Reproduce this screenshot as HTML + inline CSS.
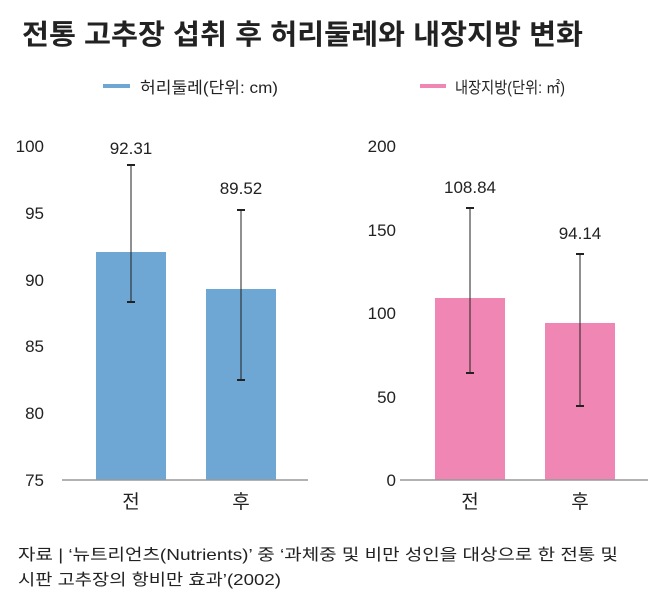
<!DOCTYPE html>
<html><head><meta charset="utf-8"><style>
html,body{margin:0;padding:0;background:#fff}
svg{display:block}
text{font-family:"Liberation Sans","Noto Sans CJK KR",sans-serif;fill:#222}
</style></head><body>
<svg width="658" height="602" viewBox="0 0 658 602">
<text x="22" y="44" font-size="28" font-weight="bold" textLength="561" lengthAdjust="spacingAndGlyphs" fill="#111">전통 고추장 섭취 후 허리둘레와 내장지방 변화</text>
<!-- legends -->
<rect x="103" y="84" width="27" height="4" fill="#6fa7d4"/>
<text x="140" y="93" font-size="16" textLength="138" lengthAdjust="spacingAndGlyphs">허리둘레(단위: cm)</text>
<rect x="420" y="84" width="26" height="4" fill="#ef86b3"/>
<text x="455" y="93" font-size="16" textLength="110" lengthAdjust="spacingAndGlyphs">내장지방(단위: ㎡)</text>
<!-- left chart -->
<g font-size="17" text-anchor="end">
<text x="44" y="152">100</text><text x="44" y="219">95</text><text x="44" y="286">90</text>
<text x="44" y="352">85</text><text x="44" y="419">80</text><text x="44" y="486">75</text>
</g>
<rect x="96" y="252" width="70" height="228" fill="#6fa7d4"/>
<rect x="206" y="289" width="70" height="191" fill="#6fa7d4"/>
<line x1="62" y1="480" x2="308" y2="480" stroke="#999" stroke-width="1.5"/>
<g stroke="#222" stroke-width="1">
<line x1="131" y1="165" x2="131" y2="302"/><line x1="127" y1="165" x2="135" y2="165" stroke-width="2"/><line x1="127" y1="302" x2="135" y2="302" stroke-width="2"/>
<line x1="241" y1="210" x2="241" y2="380"/><line x1="237" y1="210" x2="245" y2="210" stroke-width="2"/><line x1="237" y1="380" x2="245" y2="380" stroke-width="2"/>
</g>
<g font-size="17" text-anchor="middle">
<text x="131" y="154">92.31</text><text x="241" y="194">89.52</text>
<text x="131" y="508" font-size="19">전</text><text x="241" y="508" font-size="19">후</text>
</g>
<!-- right chart -->
<g font-size="17" text-anchor="end">
<text x="396" y="152">200</text><text x="396" y="236">150</text><text x="396" y="319">100</text>
<text x="396" y="403">50</text><text x="396" y="486">0</text>
</g>
<rect x="435" y="298" width="70" height="182" fill="#ef86b3"/>
<rect x="545" y="323" width="70" height="157" fill="#ef86b3"/>
<line x1="400" y1="480" x2="648" y2="480" stroke="#999" stroke-width="1.5"/>
<g stroke="#222" stroke-width="1">
<line x1="470" y1="208" x2="470" y2="373"/><line x1="466" y1="208" x2="474" y2="208" stroke-width="2"/><line x1="466" y1="373" x2="474" y2="373" stroke-width="2"/>
<line x1="580" y1="254" x2="580" y2="406"/><line x1="576" y1="254" x2="584" y2="254" stroke-width="2"/><line x1="576" y1="406" x2="584" y2="406" stroke-width="2"/>
</g>
<g font-size="17" text-anchor="middle">
<text x="470" y="193">108.84</text><text x="580" y="239">94.14</text>
<text x="470" y="508" font-size="19">전</text><text x="580" y="508" font-size="19">후</text>
</g>
<!-- footnote -->
<text x="18" y="560" font-size="16" textLength="600" lengthAdjust="spacingAndGlyphs">자료 | ‘뉴트리언츠(Nutrients)’ 중 ‘과체중 및 비만 성인을 대상으로 한 전통 및</text>
<text x="18" y="585" font-size="16" textLength="263" lengthAdjust="spacingAndGlyphs">시판 고추장의 항비만 효과’(2002)</text>
</svg>
</body></html>
